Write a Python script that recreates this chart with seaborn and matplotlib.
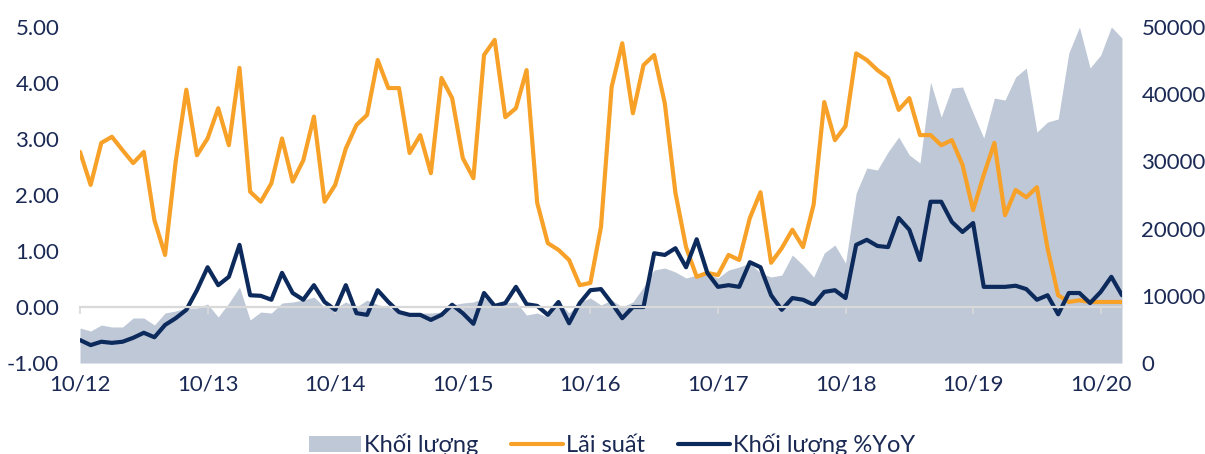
import numpy as np
import pandas as pd
import matplotlib
matplotlib.use("Agg")
import matplotlib.pyplot as plt
import seaborn as sns

# ---- data: monthly, 10/2012 .. 12/2020 ----
lai_suat = [2.77, 2.18, 2.93, 3.04, 2.80, 2.57, 2.77, 1.55, 0.93, 2.60,
            3.88, 2.71, 3.01, 3.55, 2.89, 4.27, 2.06, 1.88, 2.21, 3.01,
            2.24, 2.62, 3.40, 1.88, 2.18, 2.83, 3.25, 3.43, 4.41, 3.91,
            3.91, 2.75, 3.07, 2.39, 4.09, 3.73, 2.66, 2.30, 4.50, 4.77,
            3.39, 3.55, 4.23, 1.86, 1.14, 1.02, 0.84, 0.39, 0.43, 1.43,
            3.93, 4.71, 3.46, 4.32, 4.50, 3.64, 2.04, 1.07, 0.54, 0.61,
            0.57, 0.93, 0.84, 1.59, 2.05, 0.79, 1.05, 1.38, 1.07, 1.83,
            3.66, 2.98, 3.23, 4.53, 4.41, 4.23, 4.09, 3.52, 3.73, 3.07,
            3.07, 2.89, 2.98, 2.54, 1.73, 2.36, 2.93, 1.64, 2.09, 1.96,
            2.14, 1.05, 0.21, 0.09, 0.12, 0.09, 0.09, 0.09, 0.09]

kl_yoy = [-0.59, -0.68, -0.62, -0.64, -0.62, -0.55, -0.46, -0.54, -0.32, -0.20,
          -0.05, 0.30, 0.71, 0.39, 0.54, 1.11, 0.21, 0.20, 0.13, 0.61,
          0.25, 0.13, 0.39, 0.09, -0.05, 0.39, -0.11, -0.14, 0.30, 0.09,
          -0.09, -0.14, -0.14, -0.23, -0.14, 0.04, -0.11, -0.30, 0.25, 0.02,
          0.07, 0.36, 0.05, 0.02, -0.14, 0.09, -0.29, 0.07, 0.30, 0.32,
          0.07, -0.20, 0.00, 0.00, 0.96, 0.93, 1.05, 0.71, 1.21, 0.61,
          0.36, 0.39, 0.36, 0.80, 0.71, 0.21, -0.05, 0.16, 0.13, 0.04,
          0.27, 0.30, 0.16, 1.11, 1.20, 1.09, 1.07, 1.59, 1.38, 0.84,
          1.88, 1.88, 1.52, 1.34, 1.50, 0.36, 0.36, 0.36, 0.38, 0.32,
          0.13, 0.21, -0.13, 0.25, 0.25, 0.07, 0.27, 0.54, 0.21]

khoi_luong = [5210, 4760, 5650, 5360, 5360, 6700, 6700, 5650, 7440, 7740,
              8180, 8180, 8780, 6850, 8930, 11310, 6400, 7590, 7440, 8930,
              9080, 9370, 9820, 8330, 8180, 9080, 8330, 9370, 8700, 8300,
              7590, 7440, 7440, 7440, 7590, 8630, 8930, 9080, 9670, 8630,
              8930, 9080, 7140, 7440, 6850, 9080, 7440, 9080, 9670, 8630,
              9370, 8330, 9080, 11310, 13840, 14140, 13540, 12650, 13090, 13390,
              12650, 13840, 14280, 14880, 13390, 12800, 13090, 16070, 14580, 12800,
              16370, 17560, 14880, 25300, 29020, 28720, 31400, 33630, 30950, 29760,
              41810, 36600, 40920, 41070, 37200, 33480, 39430, 39130, 42560, 43900,
              34370, 35860, 36310, 46130, 50000, 43900, 45830, 50000, 48360]

tick_labels = ["10/12", "10/13", "10/14", "10/15", "10/16",
               "10/17", "10/18", "10/19", "10/20"]

df = pd.DataFrame({
    "thang": np.arange(len(lai_suat)),
    "Lãi suất": lai_suat,
    "Khối lượng %YoY": kl_yoy,
    "Khối lượng": khoi_luong,
})

C_AREA = "#bfc8d7"
C_ORANGE = "#f7a128"
C_NAVY = "#0d2a5c"
C_TEXT = "#1b2a55"
C_ZERO = "#d9d9d9"

sns.set_theme(style="white")
plt.rcParams["font.family"] = ["Lato", "DejaVu Sans"]

fig = plt.figure(figsize=(12.05, 4.54), dpi=100)
ax = fig.add_axes([0.0664, 0.2004, 0.8647, 0.7401])
ax2 = ax.twinx()

# area on the right axis, kept behind the lines
area = ax2.fill_between(df["thang"], 0, df["Khối lượng"], color=C_AREA,
                        lw=0, label="Khối lượng")
ax2.set_ylim(0, 50000)
ax2.set_yticks(np.arange(0, 50001, 10000))
ax2.set_yticklabels([f"{v:d}" for v in range(0, 50001, 10000)])

ax.set_zorder(ax2.get_zorder() + 1)
ax.patch.set_visible(False)

sns.lineplot(data=df, x="thang", y="Lãi suất", ax=ax, color=C_ORANGE,
             lw=3, label="Lãi suất", legend=False)
sns.lineplot(data=df, x="thang", y="Khối lượng %YoY", ax=ax, color=C_NAVY,
             lw=3, label="Khối lượng %YoY", legend=False)

ax.set_ylim(-1, 5)
ax.set_yticks(np.arange(-1, 5.01, 1))
ax.set_yticklabels([f"{v:.2f}" for v in np.arange(-1, 5.01, 1)])
ax.set_xlim(0, len(lai_suat) - 1)
ax.set_xlabel("")
ax.set_ylabel("")

year_ticks = np.arange(0, len(lai_suat), 12)

# zero line with small year ticks
for s in ["top", "left", "right"]:
    ax.spines[s].set_visible(False)
    ax2.spines[s].set_visible(False)
ax2.spines["bottom"].set_visible(False)
ax.spines["bottom"].set_position(("data", 0))
ax.spines["bottom"].set_color(C_ZERO)
ax.spines["bottom"].set_linewidth(1.6)
ax.set_xticks(year_ticks)
ax.tick_params(axis="x", bottom=True, length=5, width=1.2, color=C_ZERO,
               direction="out", labelbottom=False)

# labels along the bottom edge
sec = ax.secondary_xaxis("bottom")
sec.set_xticks(year_ticks)
sec.set_xticklabels(tick_labels)
sec.spines["bottom"].set_visible(False)
sec.tick_params(axis="x", length=0, pad=8, labelsize=16, labelcolor=C_TEXT)

ax.tick_params(axis="y", length=0, pad=15, labelsize=16, labelcolor=C_TEXT)
ax2.tick_params(axis="y", length=0, pad=14, labelsize=16, labelcolor=C_TEXT)
ax.grid(False)
ax2.grid(False)

handles = [area] + ax.get_lines()[:2]
labels = ["Khối lượng", "Lãi suất", "Khối lượng %YoY"]
fig.legend(handles, labels, loc="center", bbox_to_anchor=(0.508, 0.02),
           ncol=3, frameon=False, fontsize=17, handlelength=2.2,
           handletextpad=0.12, columnspacing=1.4, labelcolor=C_TEXT)

fig.savefig("out.png", dpi=100)
